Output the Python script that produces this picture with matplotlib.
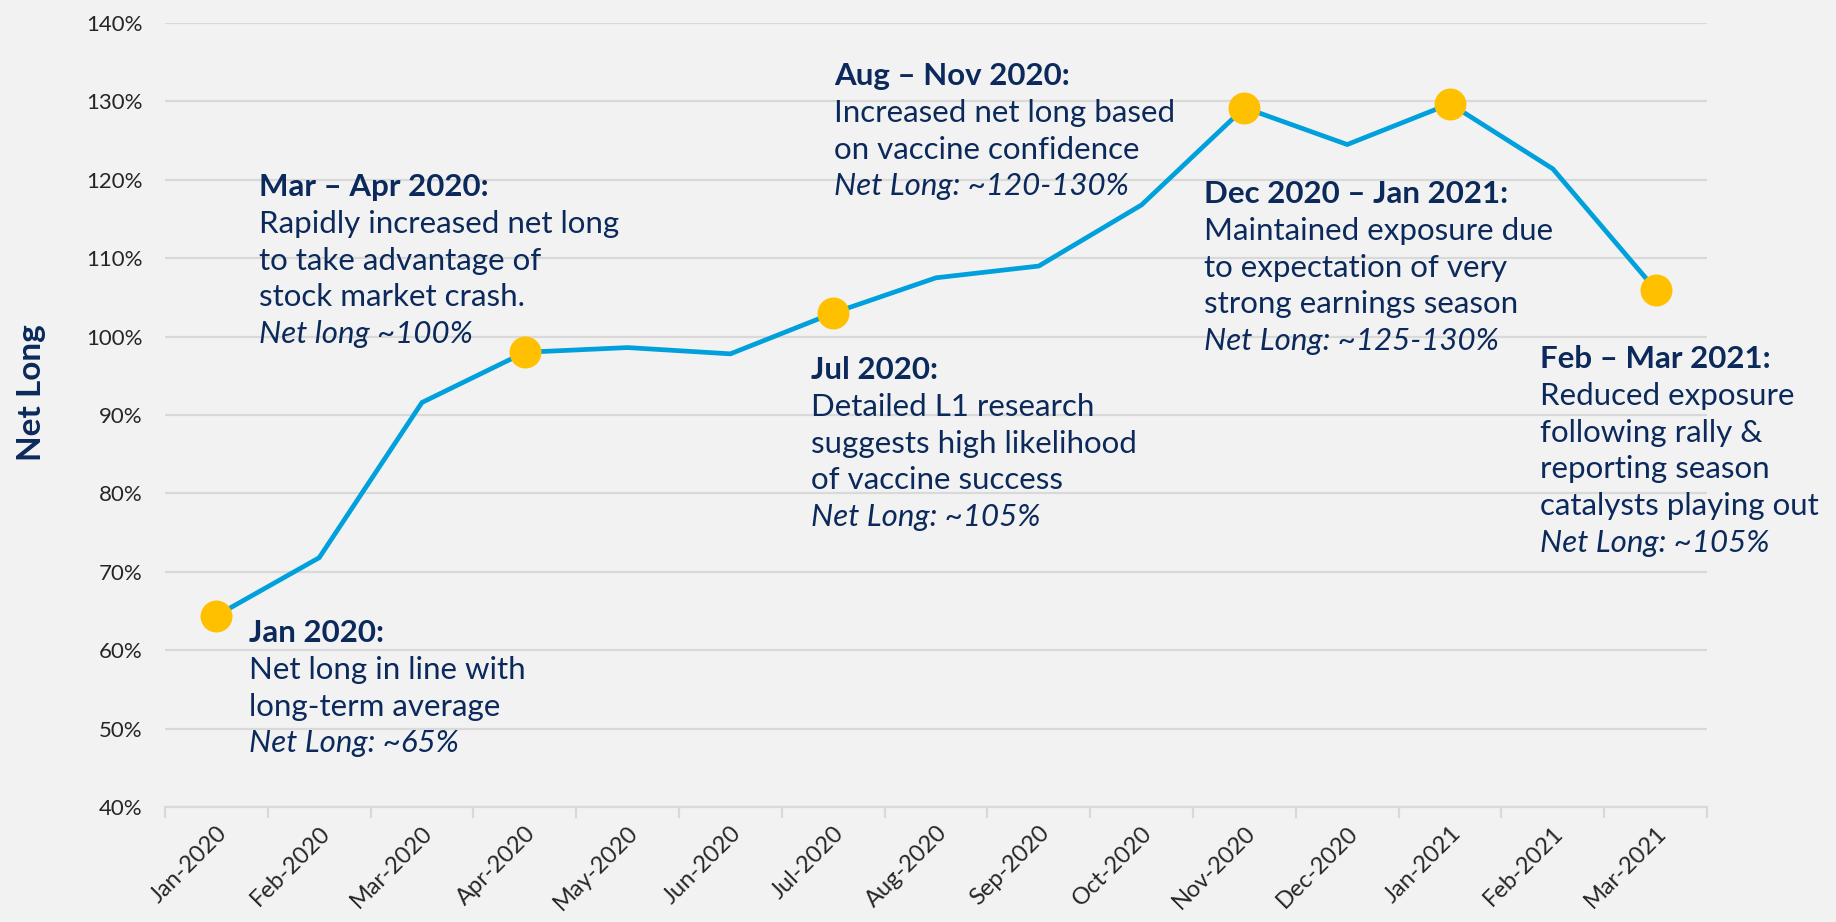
import matplotlib
matplotlib.use("Agg")
import matplotlib.pyplot as plt
import numpy as np

months = ["Jan-2020", "Feb-2020", "Mar-2020", "Apr-2020", "May-2020", "Jun-2020",
          "Jul-2020", "Aug-2020", "Sep-2020", "Oct-2020", "Nov-2020", "Dec-2020",
          "Jan-2021", "Feb-2021", "Mar-2021"]
net_long = [64.4, 71.8, 91.6, 98.0, 98.6, 97.8, 103.0, 107.5, 109.0, 116.8,
            129.2, 124.5, 129.7, 121.4, 106.0]
highlight_idx = [0, 3, 6, 10, 12, 14]
yticks = [40, 50, 60, 70, 80, 90, 100, 110, 120, 130, 140]

annotations = [
    (249, 633, ["Jan 2020:", "Net long in line with", "long-term average", "Net Long: ~65%"]),
    (259, 187, ["Mar \u2013 Apr 2020:", "Rapidly increased net long", "to take advantage of",
                "stock market crash.", "Net long ~100%"]),
    (811, 370, ["Jul 2020:", "Detailed L1 research", "suggests high likelihood",
                "of vaccine success", "Net Long: ~105%"]),
    (834, 76, ["Aug \u2013 Nov 2020:", "Increased net long based", "on vaccine confidence",
               "Net Long: ~120-130%"]),
    (1204, 194, ["Dec 2020 \u2013 Jan 2021:", "Maintained exposure due", "to expectation of very",
                 "strong earnings season", "Net Long: ~125-130%"]),
    (1540, 359, ["Feb \u2013 Mar 2021:", "Reduced exposure", "following rally &",
                 "reporting season", "catalysts playing out", "Net Long: ~105%"]),
]

BG = "#F2F2F2"
NAVY = "#0B2A5B"
LINE = "#00A0DC"
GOLD = "#FFC000"
GRID = "#D9D9D9"
FONT = ["Lato", "DejaVu Sans"]

plt.rcParams['font.family'] = FONT

W, H = 1836, 922
fig = plt.figure(figsize=(W / 100, H / 100), dpi=100, facecolor=BG)
ax = fig.add_axes([165 / W, 1 - 807 / H, (1707 - 165) / W, (807 - 23) / H])
ax.set_facecolor(BG)

x = np.arange(len(months))
ax.plot(x, net_long, color=LINE, lw=3.4, zorder=3, solid_joinstyle='miter')
ax.plot(x[highlight_idx], np.array(net_long)[highlight_idx], 'o', color=GOLD,
        markersize=23, markeredgewidth=0, zorder=4)

ax.set_xlim(-0.5, len(months) - 0.5)
ax.set_ylim(40, 140)
ax.set_yticks(yticks)
ax.set_yticklabels([f"{v}%" for v in yticks])
ax.yaxis.grid(True, color=GRID, lw=1.6)
ax.set_axisbelow(True)
ax.tick_params(axis='y', length=0, labelsize=16, labelcolor="#262626", pad=16)

ax.set_xticks(x)
ax.set_xticklabels(months, rotation=45, ha='right', rotation_mode='anchor')
ax.set_xticks(np.arange(-0.5, len(months), 1), minor=True)
ax.tick_params(axis='x', which='major', length=0, labelsize=17, labelcolor="#262626", pad=11)
ax.tick_params(axis='x', which='minor', length=8, color=GRID, width=1.6)

for s in ['top', 'right', 'left']:
    ax.spines[s].set_visible(False)
ax.spines['bottom'].set_color(GRID)
ax.spines['bottom'].set_linewidth(1.6)

fig.text(31 / W, 1 - 393 / H, "Net Long", rotation=90, ha='center', va='center',
         fontsize=24, fontweight='bold', color=NAVY)

spacing = 36.8
for (px, py, lines) in annotations:
    for i, t in enumerate(lines):
        if i == 0:
            kw = dict(fontweight='bold')
        elif i == len(lines) - 1:
            kw = dict(fontstyle='italic')
        else:
            kw = {}
        fig.text(px / W, 1 - (py + i * spacing) / H, t, ha='left', va='center',
                 fontsize=22.5, color=NAVY, **kw)

fig.savefig("out.png", dpi=100, facecolor=BG)
